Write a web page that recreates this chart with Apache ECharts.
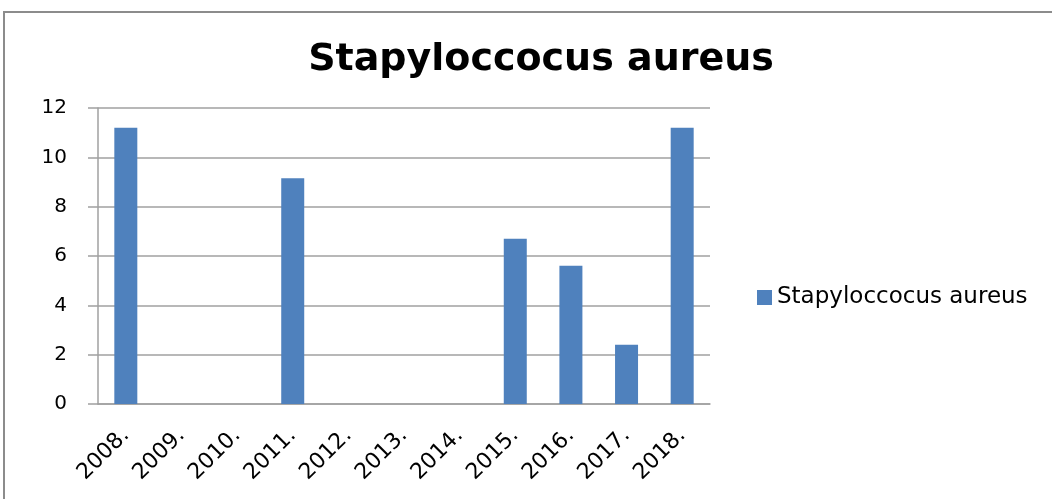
<!DOCTYPE html>
<html>
<head>
<meta charset="utf-8">
<script src="https://cdn.jsdelivr.net/npm/echarts@6/dist/echarts.min.js"></script>
<style>
  html, body { margin: 0; padding: 0; background: #fff; }
  #frame { position: absolute; left: 3px; top: 11px; width: 1200px; height: 600px; border: 2px solid #8c8c8c; box-sizing: border-box; }
  #chart { position: absolute; left: 0; top: 0; width: 1052px; height: 499px; }
</style>
</head>
<body>
<div id="frame"></div>
<div id="chart"></div>
<script>
var years = ['2008.', '2009.', '2010.', '2011.', '2012.', '2013.', '2014.', '2015.', '2016.', '2017.', '2018.']
var counts = [11.2, 0, 0, 9.15, 0, 0, 0, 6.7, 5.6, 2.4, 11.2]
var seriesName = 'Stapyloccocus aureus'

var font = '"DejaVu Sans", sans-serif'

var myChart = echarts.init(document.getElementById('chart'))
myChart.setOption({
    animation: false,
    title: {
        text: 'Stapyloccocus aureus',
        left: 536,
        textAlign: 'center',
        top: 36,
        textStyle: { fontFamily: font, fontSize: 38, fontWeight: 'bold', color: '#000' }
    },
    legend: {
        left: 752,
        top: 281,
        itemWidth: 15,
        itemHeight: 15,
        itemGap: 7,
        icon: 'rect',
        textStyle: { fontFamily: font, fontSize: 23, color: '#000' },
        data: [seriesName]
    },
    grid: { left: 98, right: 342, top: 108, bottom: 95 },
    xAxis: {
        type: 'category',
        data: years,
        axisLine: { lineStyle: { color: '#a0a0a0', width: 1.5 } },
        axisTick: { alignWithLabel: false, length: 8, lineStyle: { color: '#a0a0a0', width: 1.5 } },
        axisLabel: { rotate: 45, margin: 28, interval: 0, fontFamily: font, fontSize: 22, color: '#000' }
    },
    yAxis: {
        type: 'value',
        min: 0,
        max: 12,
        interval: 2,
        axisLine: { show: true, lineStyle: { color: '#a0a0a0', width: 1.5 } },
        axisTick: { show: true, inside: false, length: 10, lineStyle: { color: '#a0a0a0', width: 1.5 } },
        splitLine: { lineStyle: { color: '#a0a0a0', width: 1.5 } },
        axisLabel: { margin: 31, fontFamily: font, fontSize: 20, color: '#000' }
    },
    series: [{
        name: seriesName,
        type: 'bar',
        data: counts,
        barWidth: 23,
        itemStyle: { color: '#4f81bd' }
    }]
})
</script>
</body>
</html>
